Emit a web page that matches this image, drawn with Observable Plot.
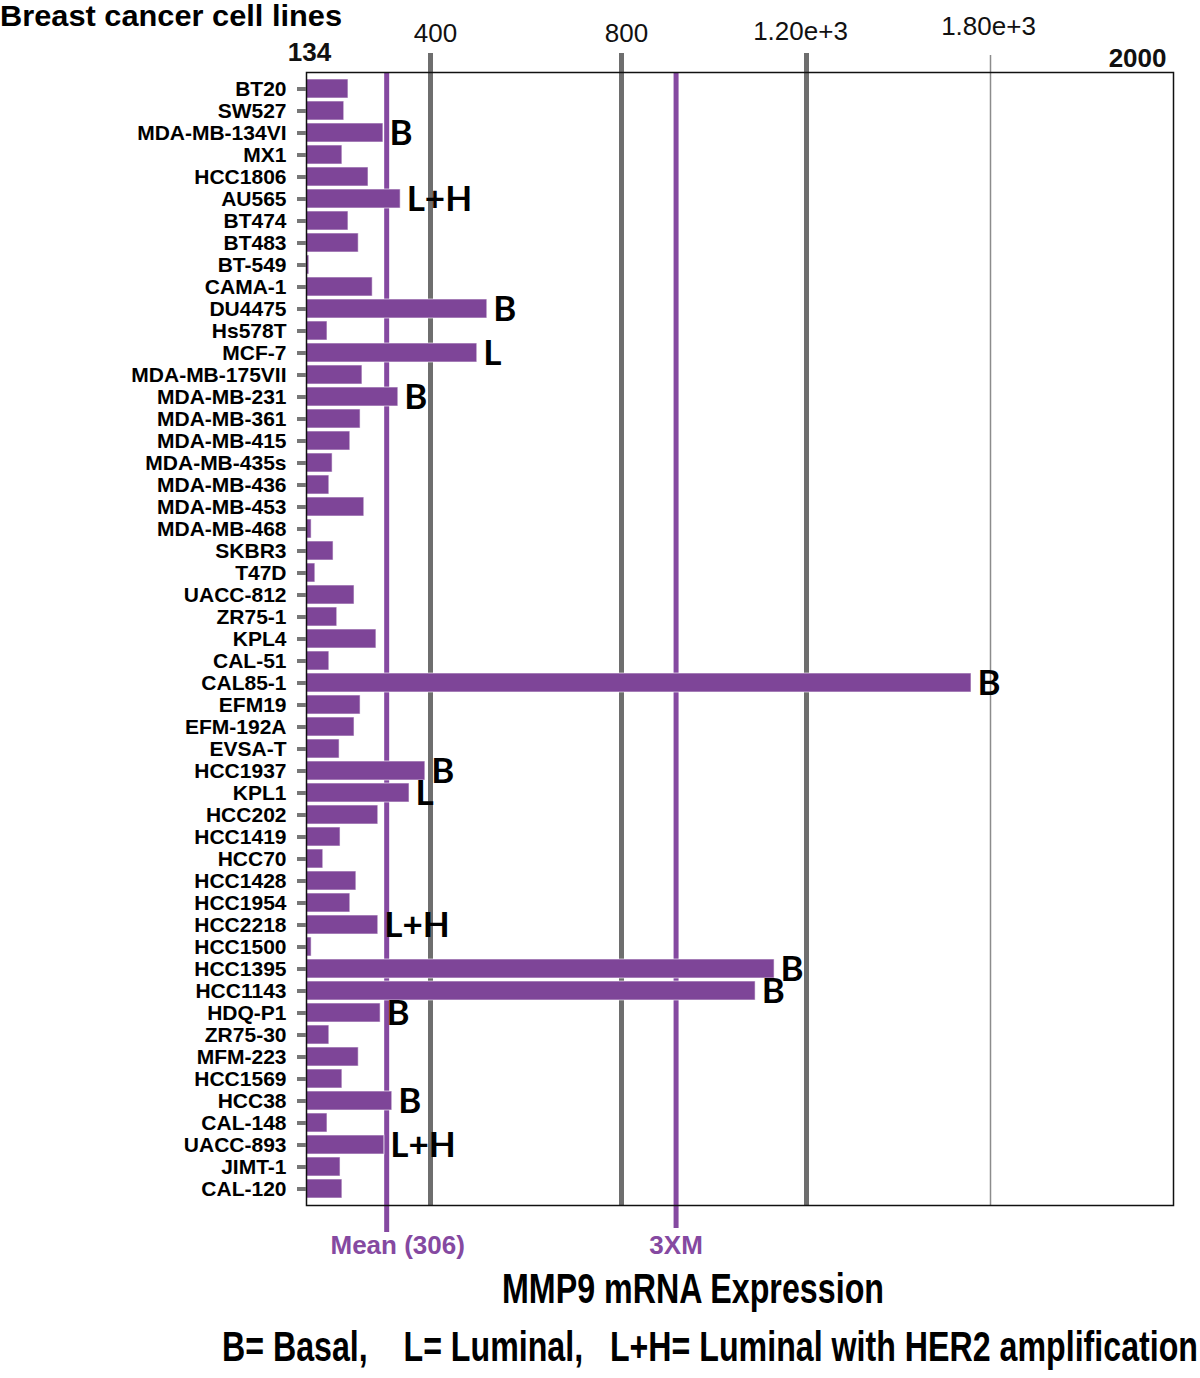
<!DOCTYPE html>
<html><head><meta charset="utf-8">
<script src="https://cdn.jsdelivr.net/npm/d3@7"></script>
<script src="https://cdn.jsdelivr.net/npm/@observablehq/plot@0.6"></script>
<style>
body{margin:0;background:#fff;}
#wrap{position:relative;width:1200px;height:1378px;overflow:hidden;font-family:"Liberation Sans",Arial,sans-serif;}
#wrap svg{position:absolute;left:0;top:0;}
.t{position:absolute;white-space:pre;line-height:1;font-weight:bold;color:#000;transform-origin:0 0;}
#title{left:0;top:1px;font-size:30px;}
#xlabel{left:502px;top:1267px;font-size:43px;}
#legend{left:222px;top:1326px;font-size:42px;}
</style></head><body>
<div id="wrap">
 <div class="t" id="title">Breast cancer cell lines</div>
 <div class="t" id="xlabel">MMP9 mRNA Expression</div>
 <div class="t" id="legend">B= Basal,    L= Luminal,   L+H= Luminal with HER2 amplification</div>
</div>
<script>
const cellLines = ["BT20","SW527","MDA-MB-134VI","MX1","HCC1806","AU565","BT474","BT483","BT-549","CAMA-1",
  "DU4475","Hs578T","MCF-7","MDA-MB-175VII","MDA-MB-231","MDA-MB-361","MDA-MB-415","MDA-MB-435s","MDA-MB-436","MDA-MB-453",
  "MDA-MB-468","SKBR3","T47D","UACC-812","ZR75-1","KPL4","CAL-51","CAL85-1","EFM19","EFM-192A",
  "EVSA-T","HCC1937","KPL1","HCC202","HCC1419","HCC70","HCC1428","HCC1954","HCC2218","HCC1500",
  "HCC1395","HCC1143","HDQ-P1","ZR75-30","MFM-223","HCC1569","HCC38","CAL-148","UACC-893","JIMT-1","CAL-120"];
const expression = [224,215,299,211,267,336,224,246,140,276,
  519,179,498,254,331,250,228,190,183,258,
  145,192,153,237,200,284,183,1738,250,237,
  205,389,355,288,207,170,241,228,288,145,
  1131,1090,293,183,246,211,318,179,301,207,211];
const subtypes = ["","","B","","","L+H","","","","",
  "B","","L","","B","","","","","",
  "","","","","","","","B","","",
  "","B","L","","","","","","L+H","",
  "B","B","B","","","","B","","L+H","",""];
const tickValues = [134, 400, 800, 1200, 1800, 2000];
const tickLabels = ["134", "400", "800", "1.20e+3", "1.80e+3", "2000"];
const majorLines = [400, 800, 1200];
const minorLines = [1800];
const meanValue = 306;
const threeXMean = 918;
const refLabels = ["Mean (306)", "3XM"];

const data = cellLines.map((c, i) => ({cell: c, value: expression[i], subtype: subtypes[i]}));
const ticks = tickValues.map((v, i) => ({value: v, label: tickLabels[i]}));

const purple = "#7e4598";
const linePurple = "#8549a1";
const gray = "#6e6e6e";

const topText = (labels, opts) => Plot.text(ticks.filter(d => labels.includes(d.label)), {
  x: "value", text: "label", frameAnchor: "top", lineAnchor: "middle", fontSize: 26, fill: "#111", ...opts
});
const refText = (value, label, dx) => Plot.text([{value, label}], {
  x: "value", text: "label", frameAnchor: "bottom", lineAnchor: "middle", dy: 40, dx,
  fontSize: 26, fontWeight: "bold", fill: linePurple
});

const chart = Plot.plot({
  width: 1200,
  height: 1378,
  marginTop: 72,
  marginBottom: 173,
  marginLeft: 306,
  marginRight: 27,
  style: {fontFamily: "Liberation Sans, Arial, sans-serif", background: "transparent", overflow: "visible"},
  x: {type: "linear", domain: tickValues, range: [306, 430, 621, 806, 990, 1173], axis: null},
  y: {domain: cellLines, paddingInner: 0.14, paddingOuter: 0.18, axis: null},
  marks: [
    Plot.ruleX(majorLines, {stroke: gray, strokeWidth: 5, insetTop: -19}),
    Plot.ruleX(minorLines, {stroke: "#8c8c8c", strokeWidth: 1.5, insetTop: -17}),
    Plot.ruleX([meanValue], {stroke: linePurple, strokeWidth: 5, insetBottom: -27}),
    Plot.ruleX([threeXMean], {stroke: linePurple, strokeWidth: 5, insetBottom: -23}),
    Plot.barX(data, {x1: () => tickValues[0], x2: "value", y: "cell", fill: purple, stroke: "#ffffff", strokeWidth: 1, strokeOpacity: 0.6}),
    Plot.frame({stroke: "#111", strokeWidth: 1.5}),
    Plot.axisY({tickSize: 9, tickPadding: 11, stroke: "#777", strokeWidth: 4, fill: "#000", fontSize: 21, fontWeight: "bold", label: null}),
    topText(["134"], {fontWeight: "bold", dy: -20, dx: 3}),
    topText(["400", "800"], {dy: -39, dx: 5}),
    topText(["1.20e+3"], {dy: -41, dx: -6}),
    topText(["1.80e+3"], {dy: -46, dx: -2}),
    topText(["2000"], {fontWeight: "bold", dy: -14, dx: -7, textAnchor: "end"}),
    Plot.text(data.filter(d => d.subtype), {x: "value", y: "cell", text: "subtype", textAnchor: "start", dx: 6, dy: 1, fontSize: 35, fontWeight: "bold", fontFamily: "Lato, Open Sans, sans-serif", fill: "#000"}),
    refText(meanValue, refLabels[0], 11),
    refText(threeXMean, refLabels[1], 0)
  ]
});
const wrap = document.getElementById("wrap");
wrap.prepend(chart);

function fit(id, target) {
  const el = document.getElementById(id);
  const w = el.getBoundingClientRect().width;
  el.style.transform = `scaleX(${target / w})`;
}
fit("title", 342);
fit("xlabel", 382);
fit("legend", 976);
</script>
</body></html>
